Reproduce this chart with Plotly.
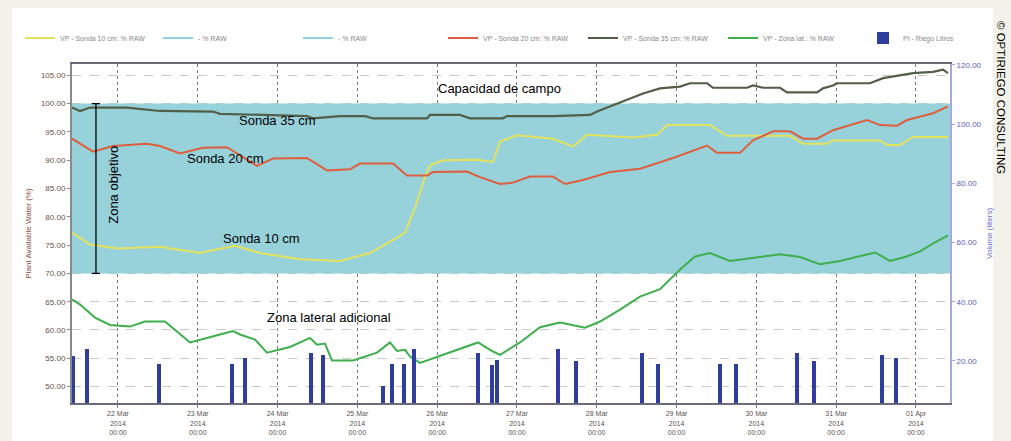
import pandas as pd
import plotly.graph_objects as go

# ---------------- data ----------------
s35_t = ["2014-03-21 10:10", "2014-03-21 12:36", "2014-03-21 15:36", "2014-03-22 02:42", "2014-03-22 12:38",
         "2014-03-23 04:34", "2014-03-23 06:41", "2014-03-24 08:51", "2014-03-24 10:39", "2014-03-24 18:47",
         "2014-03-25 02:18", "2014-03-25 04:42", "2014-03-25 20:57", "2014-03-25 21:51", "2014-03-26 06:52",
         "2014-03-26 09:53", "2014-03-26 19:48", "2014-03-26 21:00", "2014-03-27 10:51", "2014-03-27 22:00",
         "2014-03-28 00:05", "2014-03-28 04:54", "2014-03-28 09:06", "2014-03-28 13:55", "2014-03-28 19:02",
         "2014-03-29 01:03", "2014-03-29 04:04", "2014-03-29 09:10", "2014-03-29 10:58", "2014-03-29 21:12",
         "2014-03-29 23:00", "2014-03-30 02:01", "2014-03-30 07:08", "2014-03-30 09:14", "2014-03-30 18:15",
         "2014-03-30 20:03", "2014-03-30 23:04", "2014-03-31 00:16", "2014-03-31 10:12", "2014-03-31 14:07",
         "2014-03-31 23:08", "2014-04-01 05:09", "2014-04-01 08:09", "2014-04-01 09:39"]
s35_v = [99.3, 98.7, 99.3, 99.3, 98.7, 98.6, 98.2, 97.8, 97.4, 97.8,
         97.8, 97.4, 97.4, 98.0, 98.0, 97.4, 97.4, 97.8, 97.8, 98.0,
         98.6, 99.7, 100.8, 101.8, 102.7, 103.0, 103.6, 103.6, 102.8, 102.8,
         103.2, 102.8, 102.8, 102.0, 102.0, 102.7, 103.2, 103.6, 103.6, 104.5,
         105.4, 105.6, 106.0, 105.4]

s20_t = ["2014-03-21 10:10", "2014-03-21 16:30", "2014-03-21 22:30", "2014-03-22 08:43", "2014-03-22 12:38",
         "2014-03-22 18:39", "2014-03-23 01:34", "2014-03-23 08:47", "2014-03-23 17:49", "2014-03-23 22:37",
         "2014-03-24 08:51", "2014-03-24 14:52", "2014-03-24 21:47", "2014-03-25 00:48", "2014-03-25 10:43",
         "2014-03-25 14:56", "2014-03-25 20:57", "2014-03-25 22:45", "2014-03-26 08:58", "2014-03-26 12:53",
         "2014-03-26 18:54", "2014-03-26 22:31", "2014-03-27 03:56", "2014-03-27 10:51", "2014-03-27 14:27",
         "2014-03-27 19:52", "2014-03-28 04:00", "2014-03-28 13:01", "2014-03-28 22:56", "2014-03-29 09:10",
         "2014-03-29 12:10", "2014-03-29 19:06", "2014-03-29 23:00", "2014-03-30 05:02", "2014-03-30 10:08",
         "2014-03-30 14:02", "2014-03-30 18:15", "2014-03-30 23:04", "2014-03-31 09:18", "2014-03-31 13:13",
         "2014-03-31 18:20", "2014-03-31 21:20", "2014-04-01 05:09", "2014-04-01 09:39"]
s20_v = [93.8, 91.5, 92.5, 92.9, 92.5, 91.2, 92.2, 92.3, 89.0, 90.3,
         90.4, 88.2, 88.4, 89.4, 89.4, 87.3, 87.3, 87.9, 88.0, 87.0,
         85.8, 86.0, 87.1, 87.1, 85.8, 86.5, 87.9, 88.5, 90.4, 92.6,
         91.3, 91.3, 93.5, 95.1, 95.1, 93.8, 93.8, 95.3, 97.1, 96.2,
         96.1, 97.1, 98.3, 99.5]

s10_t = ["2014-03-21 10:10", "2014-03-21 15:36", "2014-03-22 00:00", "2014-03-22 12:38", "2014-03-23 00:40",
         "2014-03-23 11:12", "2014-03-23 18:43", "2014-03-24 06:45", "2014-03-24 18:47", "2014-03-25 03:48",
         "2014-03-25 11:19", "2014-03-25 14:20", "2014-03-25 17:20", "2014-03-25 20:21", "2014-03-25 21:51",
         "2014-03-26 01:45", "2014-03-26 12:00", "2014-03-26 16:48", "2014-03-26 18:54", "2014-03-27 00:00",
         "2014-03-27 10:51", "2014-03-27 16:52", "2014-03-27 21:04", "2014-03-28 10:59", "2014-03-28 18:07",
         "2014-03-28 21:08", "2014-03-29 10:04", "2014-03-29 15:11", "2014-03-30 10:08", "2014-03-30 14:02",
         "2014-03-30 21:15", "2014-03-30 23:04", "2014-03-31 13:13", "2014-03-31 15:19", "2014-03-31 19:14",
         "2014-03-31 23:08", "2014-04-01 09:39"]
s10_v = [77.2, 75.1, 74.4, 74.7, 73.6, 74.9, 73.6, 72.5, 72.2, 73.6,
         76.1, 77.2, 81.6, 87.0, 89.1, 90.0, 90.1, 89.7, 93.3, 94.4,
         93.8, 92.4, 94.5, 94.0, 94.5, 96.2, 96.2, 94.3, 94.3, 92.9,
         92.9, 93.5, 93.5, 92.7, 92.7, 94.1, 94.1]

lat_t = ["2014-03-21 10:10", "2014-03-21 12:36", "2014-03-21 17:05", "2014-03-21 21:36", "2014-03-22 03:37",
         "2014-03-22 08:07", "2014-03-22 14:08", "2014-03-22 21:40", "2014-03-23 06:41", "2014-03-23 10:35",
         "2014-03-23 12:42", "2014-03-23 17:13", "2014-03-23 20:49", "2014-03-24 03:44", "2014-03-24 09:45",
         "2014-03-24 11:52", "2014-03-24 14:16", "2014-03-24 16:22", "2014-03-24 22:41", "2014-03-25 05:54",
         "2014-03-25 09:49", "2014-03-25 11:55", "2014-03-25 14:20", "2014-03-25 15:50", "2014-03-25 18:50",
         "2014-03-26 00:00", "2014-03-26 09:53", "2014-03-26 12:17", "2014-03-26 16:48", "2014-03-26 18:54",
         "2014-03-27 00:55", "2014-03-27 06:56", "2014-03-27 12:58", "2014-03-27 20:28", "2014-03-28 01:00",
         "2014-03-28 07:00", "2014-03-28 13:01", "2014-03-28 19:02", "2014-03-29 01:03", "2014-03-29 05:34",
         "2014-03-29 10:04", "2014-03-29 16:05", "2014-03-30 01:06", "2014-03-30 07:08", "2014-03-30 13:09",
         "2014-03-30 19:10", "2014-03-31 01:11", "2014-03-31 07:12", "2014-03-31 11:43", "2014-03-31 16:13",
         "2014-03-31 20:44", "2014-04-01 01:14", "2014-04-01 05:45", "2014-04-01 09:39"]
lat_v = [65.4, 64.5, 62.2, 60.9, 60.6, 61.5, 61.5, 57.8, 59.2, 59.8,
         59.2, 58.3, 56.0, 57.0, 58.6, 57.4, 57.6, 54.6, 54.6, 56.0,
         57.8, 56.3, 56.5, 55.3, 54.2, 55.3, 57.4, 57.8, 56.2, 55.6,
         57.8, 60.5, 61.3, 60.4, 61.5, 63.6, 65.9, 67.2, 70.7, 73.0,
         73.6, 72.2, 72.9, 73.4, 72.9, 71.6, 72.2, 73.0, 73.7, 72.2,
         72.9, 73.9, 75.5, 76.7]

riego_t = ["2014-03-21 10:28", "2014-03-21 14:40", "2014-03-22 12:20", "2014-03-23 10:17", "2014-03-23 14:11",
           "2014-03-24 10:03", "2014-03-24 13:40", "2014-03-25 07:42", "2014-03-25 10:25", "2014-03-25 14:01",
           "2014-03-25 17:01", "2014-03-26 12:16", "2014-03-26 16:29", "2014-03-26 17:59", "2014-03-27 12:20",
           "2014-03-27 17:44", "2014-03-28 13:35", "2014-03-28 18:24", "2014-03-29 13:03", "2014-03-29 17:51",
           "2014-03-30 12:13", "2014-03-30 17:19", "2014-03-31 13:47", "2014-03-31 17:58"]
riego_v = [21.7, 24.0, 19.0, 19.0, 21.0, 22.7, 22.0, 11.5, 19.0, 19.0,
           24.0, 22.7, 18.6, 20.3, 24.0, 20.0, 22.7, 19.0, 19.0, 19.0,
           22.7, 20.0, 22.0, 21.0]

# target zone (% of plant available water) and time span shown
zone_low, zone_high = 70, 100
x_start, x_end = "2014-03-21 10:10", "2014-04-01 10:15"

tick_dates = ["2014-03-22", "2014-03-23", "2014-03-24", "2014-03-25", "2014-03-26", "2014-03-27",
              "2014-03-28", "2014-03-29", "2014-03-30", "2014-03-31", "2014-04-01"]
tick_text = ["22 Mar<br>2014<br>00:00", "23 Mar<br>2014<br>00:00", "24 Mar<br>2014<br>00:00",
             "25 Mar<br>2014<br>00:00", "26 Mar<br>2014<br>00:00", "27 Mar<br>2014<br>00:00",
             "28 Mar<br>2014<br>00:00", "29 Mar<br>2014<br>00:00", "30 Mar<br>2014<br>00:00",
             "31 Mar<br>2014<br>00:00", "01 Apr<br>2014<br>00:00"]
left_ticks = [50, 55, 60, 65, 70, 75, 80, 85, 90, 95, 100, 105]
right_ticks = [20, 40, 60, 80, 100, 120]

legend_names = ["VP - Sonda 10 cm: % RAW", "- % RAW", "- % RAW", "VP - Sonda 20 cm: % RAW",
                "VP - Sonda 35 cm: % RAW", "VP - Zona lat.: % RAW", "PI - Riego Litros"]

# ---------------- figure ----------------
FONT = "Liberation Sans, Arial, sans-serif"
fig = go.Figure()

fig.add_trace(go.Bar(x=pd.to_datetime(riego_t), y=riego_v, yaxis="y2", name=legend_names[6],
                     marker=dict(color="#2f3d9c", line=dict(width=0)), width=4.3e6, legend="legend7"))
# target zone band
fig.add_trace(go.Scatter(x=pd.to_datetime([x_start, x_end, x_end, x_start]),
                         y=[zone_low, zone_low, zone_high, zone_high],
                         fill="toself", fillcolor="#97d2db", mode="none", showlegend=False,
                         hoverinfo="skip"))
fig.add_trace(go.Scatter(x=[None], y=[None], mode="lines", name=legend_names[1],
                         line=dict(color="#8fd3e0", width=2), legend="legend2"))
fig.add_trace(go.Scatter(x=[None], y=[None], mode="lines", name=legend_names[2],
                         line=dict(color="#8fd3e0", width=2), legend="legend3"))
fig.add_trace(go.Scatter(x=pd.to_datetime(lat_t), y=lat_v, mode="lines", name=legend_names[5],
                         line=dict(color="#3fae4c", width=2), legend="legend6"))
fig.add_trace(go.Scatter(x=pd.to_datetime(s10_t), y=s10_v, mode="lines", name=legend_names[0],
                         line=dict(color="#e4e25c", width=2), legend="legend"))
fig.add_trace(go.Scatter(x=pd.to_datetime(s20_t), y=s20_v, mode="lines", name=legend_names[3],
                         line=dict(color="#de5f3e", width=2), legend="legend4"))
fig.add_trace(go.Scatter(x=pd.to_datetime(s35_t), y=s35_v, mode="lines", name=legend_names[4],
                         line=dict(color="#535e48", width=2.2), legend="legend5"))

shapes = [
    # white panel on cream page
    dict(type="rect", xref="paper", yref="paper", x0=-0.0683, x1=1.049, y0=-0.2, y1=1.165,
         fillcolor="white", line=dict(width=0), layer="below"),
    # zona objetivo bracket
    dict(type="line", xref="paper", yref="y", x0=0.0273, x1=0.0273, y0=zone_low, y1=zone_high,
         line=dict(color="black", width=1.3), layer="above"),
    dict(type="line", xref="paper", yref="y", x0=0.0228, x1=0.0318, y0=zone_high, y1=zone_high,
         line=dict(color="black", width=1.3), layer="above"),
    dict(type="line", xref="paper", yref="y", x0=0.0228, x1=0.0318, y0=zone_low, y1=zone_low,
         line=dict(color="black", width=1.3), layer="above"),
]

annots = [
    dict(text="Capacidad de campo", x=0.487, y=102.6, xref="paper", yref="y", showarrow=False,
         font=dict(size=13, color="black", family=FONT)),
    dict(text="Sonda 35 cm", x=0.188, y=97.1, xref="paper", yref="y", showarrow=False,
         font=dict(size=13, color="black", family=FONT)),
    dict(text="Sonda 20 cm", x=0.129, y=90.3, xref="paper", yref="y", showarrow=False,
         font=dict(size=13, color="black", family=FONT)),
    dict(text="Sonda 10 cm", x=0.170, y=76.2, xref="paper", yref="y", showarrow=False,
         font=dict(size=13, color="black", family=FONT)),
    dict(text="Zona lateral adicional", x=0.220, y=62.2, xref="paper", yref="y", showarrow=False,
         font=dict(size=13, color="black", family=FONT)),
    dict(text="Zona objetivo", x=0.0355, y=85.6, xref="paper", yref="y", showarrow=False, textangle=-90,
         font=dict(size=13, color="black", family=FONT)),
    dict(text="© OPTIRIEGO CONSULTING", x=(1001 - 72) / 878, y=(403 - 97) / 339,
         xref="paper", yref="paper", showarrow=False, textangle=90,
         font=dict(size=11.5, color="black", family=FONT), xanchor="center", yanchor="middle"),
]

# one small legend box per entry, spread along the top like the original
legend_px = [20, 158, 298, 443, 583, 723, 863]
legend_layout = {}
for i, px in enumerate(legend_px):
    key = "legend" if i == 0 else f"legend{i + 1}"
    legend_layout[key] = dict(orientation="h", x=(px - 72) / 878, xanchor="left",
                              y=(403 - 38) / 339, yanchor="middle",
                              font=dict(size=7, color="#888"), itemwidth=30,
                              bgcolor="rgba(0,0,0,0)")

fig.update_layout(
    width=1011, height=441,
    margin=dict(l=72, r=61, t=64, b=38, autoexpand=False),
    paper_bgcolor="#f3f2ea", plot_bgcolor="white",
    font=dict(family=FONT, size=8, color="#555"),
    showlegend=True,
    bargap=0,
    shapes=shapes, annotations=annots,
    xaxis=dict(type="date", range=[x_start, x_end],
               tickvals=pd.to_datetime(tick_dates), ticktext=tick_text,
               tickfont=dict(size=7, color="#5a5550"),
               showgrid=True, gridcolor="#7a7a7a", griddash="dot", gridwidth=1,
               ticks="outside", ticklen=3, tickcolor="#888",
               showline=True, linecolor="#6a6a7a", linewidth=2, mirror=True, zeroline=False),
    yaxis=dict(range=[47.1, 107.0], tickvals=left_ticks, tickformat=".2f",
               tickfont=dict(size=8, color="#6a5046"),
               title=dict(text="Plant Available Water (%)", font=dict(size=8, color="#8a4a3a"), standoff=8),
               showgrid=True, gridcolor="#c9c9c9", griddash="dash", gridwidth=1,
               showline=True, linecolor="#8a8a8a", linewidth=2, zeroline=False,
               ticks="outside", ticklen=3, tickcolor="#888"),
    yaxis2=dict(overlaying="y", side="right", range=[5.8, 120.3], tickvals=right_ticks, tickformat=".2f",
                tickfont=dict(size=8, color="#5b5bc4"),
                title=dict(text="Volume (liters)", font=dict(size=8, color="#6a6ad0"), standoff=6),
                showgrid=False, showline=True, linecolor="#a8a8e0", linewidth=2, zeroline=False,
                ticks="outside", ticklen=3, tickcolor="#a8a8e0"),
    **legend_layout,
)

fig.write_html("out.html", config={"displayModeBar": False},
               post_script="document.body.style.margin='0';document.body.style.overflow='hidden';"
                           "document.body.style.background='#f3f2ea';")
